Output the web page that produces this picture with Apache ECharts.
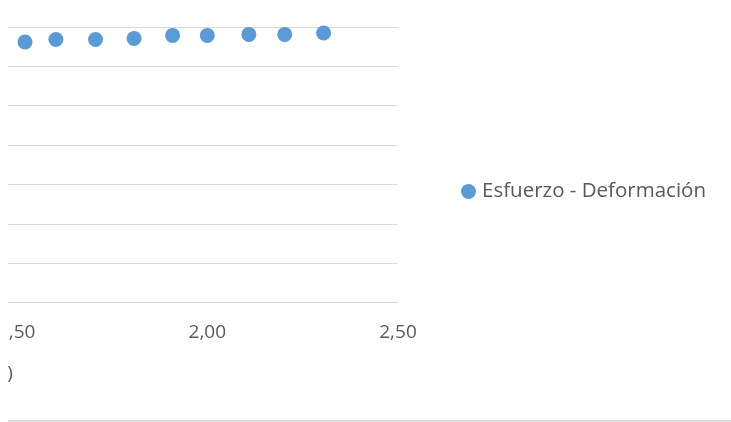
<!DOCTYPE html>
<html>
<head>
<meta charset="utf-8">
<script src="https://cdn.jsdelivr.net/npm/echarts@6/dist/echarts.min.js"></script>
<style>
html,body{margin:0;padding:0;background:#fff;}
#clip{position:absolute;left:8px;top:0;width:723px;height:422px;overflow:hidden;}
#chart{position:absolute;left:-8px;top:0;width:731px;height:422px;}
</style>
</head>
<body>
<div id="clip"><div id="chart"></div></div>
<script>
var seriesName = 'Esfuerzo - Deformación';
var xTitle = 'Deformación (mm/mm)';
var xValues = [1.522, 1.603, 1.707, 1.808, 1.909, 2.000, 2.109, 2.203, 2.305];
var yValues = [330.9, 334.2, 334.2, 335.5, 339.3, 339.3, 340.6, 340.6, 342.4];
var xTickValues = [0, 0.5, 1.0, 1.5, 2.0, 2.5];
var xTickLabels = ['0,00', '0,50', '1,00', '1,50', '2,00', '2,50'];

var points = xValues.map(function (x, i) { return [x, yValues[i]]; });
var chart = echarts.init(document.getElementById('chart'), null, {renderer: 'canvas'});
var font = 'Open Sans';
chart.setOption({
  animation: false,
  backgroundColor: '#ffffff',
  textStyle: {fontFamily: font},
  grid: {left: -555.5, right: 333, top: 27, bottom: 119.5, outerBoundsMode: 'none', containLabel: false},
  xAxis: {
    type: 'value', min: 0, max: 2.5, interval: 0.5,
    name: xTitle, nameLocation: 'middle', nameGap: 62,
    nameTextStyle: {color: '#595959', fontSize: 19, fontFamily: font, padding: [0, 25.5, 0, 0]},
    axisLine: {show: true, lineStyle: {color: '#d9d9d9', width: 1}},
    axisTick: {show: false},
    splitLine: {show: false},
    axisLabel: {
      color: '#595959', fontSize: 19, fontFamily: font, margin: 21,
      formatter: function (v) {
        for (var i = 0; i < xTickValues.length; i++) { if (Math.abs(xTickValues[i] - v) < 1e-9) return xTickLabels[i]; }
        return '';
      }
    }
  },
  yAxis: {
    type: 'value', min: 0, max: 350, interval: 50,
    axisLine: {show: false}, axisTick: {show: false},
    axisLabel: {show: false},
    splitLine: {show: true, lineStyle: {color: '#d9d9d9', width: 1}}
  },
  legend: {
    show: true, left: 456, top: 176, orient: 'vertical',
    icon: 'circle', itemWidth: 15, itemHeight: 15, itemGap: 10,
    textStyle: {color: '#595959', fontSize: 20.5, fontFamily: font, padding: [0, 0, 0, 1]},
    data: [seriesName]
  },
  graphic: [{
    type: 'line', shape: {x1: 0, y1: 421, x2: 731, y2: 421},
    style: {stroke: '#d9d9d9', lineWidth: 2}
  }],
  series: [{
    name: seriesName, type: 'scatter', data: points,
    symbol: 'circle', symbolSize: 15,
    itemStyle: {color: '#5b9bd5', opacity: 1}
  }]
});
</script>
</body>
</html>
